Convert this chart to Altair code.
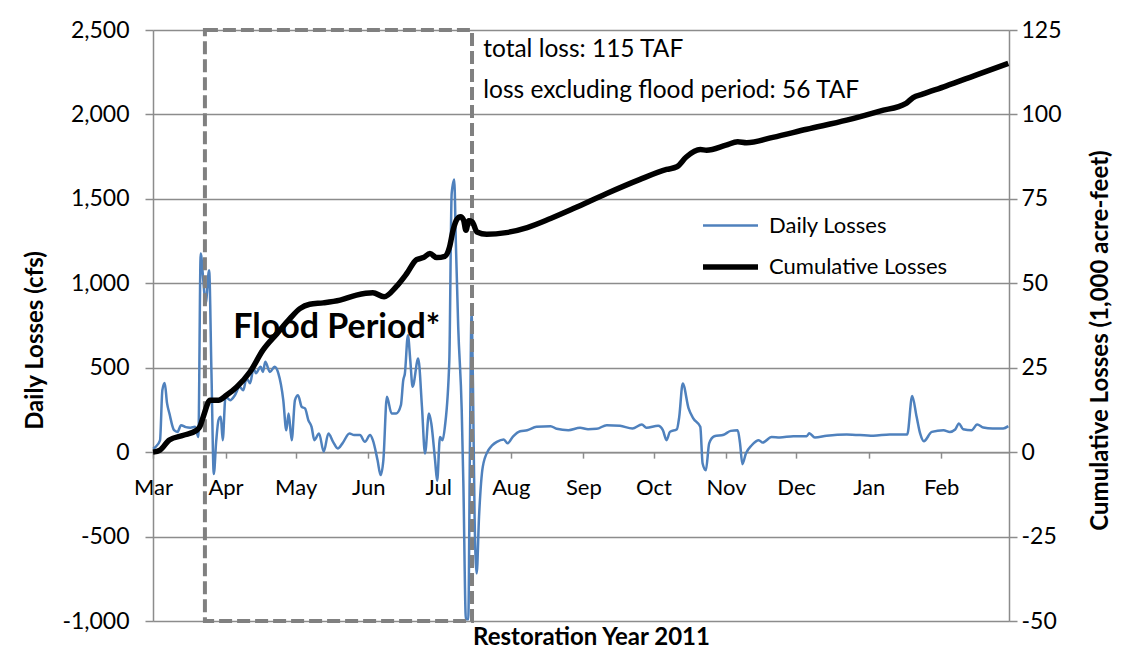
import altair as alt
import pandas as pd

# ---------------- data ----------------
START = "2011-03-01"
SERIES = ["Daily Losses", "Cumulative Losses"]

# days after 1 Mar 2011, daily losses (cfs)
daily_day = [0, 1, 3, 4, 5, 6, 7, 9, 10.5, 12, 14, 16, 18, 19.4, 20.4, 21.5, 22.5, 24, 25, 26,
             27, 28, 29, 29.8, 31, 33, 35, 37, 38.6, 40, 41.5, 43, 44, 46, 47, 48, 50, 52, 53.6,
             55.7, 57, 58, 59.3, 60.7, 62, 63.6, 65, 66.4, 67.8, 69, 71, 73, 75, 77, 79, 81, 84,
             86, 88.5, 90.6, 92.8, 94, 96, 97.3, 98.5, 100, 102, 104, 106, 107, 107.7, 109, 110,
             111, 113.4, 115, 116.3, 118, 119, 120.6, 121.5, 122.7, 123.8, 124.8, 126.7, 127.7,
             128.8, 129.5, 130.5, 132, 132.7, 133.8, 134.8, 135.5, 136.2, 136.8, 137.5, 138.4,
             139.4, 141, 143.4, 145, 147, 150, 151.6, 154, 157, 160, 164, 170, 172.6, 177.6,
             182.6, 186, 189.7, 194, 199.7, 205, 209, 211, 216, 218, 219.6, 221, 224, 225, 226.5,
             229, 231, 234, 235, 236.4, 237.8, 240, 244, 247, 250, 251, 252, 253.5, 256, 259,
             260.7, 264.5, 268, 273.8, 279.5, 280.6, 283, 288, 296.6, 308, 315, 322.5, 324.6,
             326.5, 328, 329.6, 333, 338, 340.7, 343, 344.6, 346.4, 350, 352.4, 355, 359, 363.5,
             365.7]
daily_cfs = [20, 30, 70, 367, 410, 290, 230, 130, 120, 160, 148, 145, 150, 90, 1177, 1018, 880,
             1077, 467, -130, 60, 190, 210, 70, 328, 308, 337, 387, 367, 437, 408, 497, 467, 505,
             475, 535, 475, 505, 466, 308, 130, 229, 71, 308, 337, 268, 259, 190, 150, 71, 111, 2,
             111, 61, 22, 52, 111, 101, 101, 61, 101, 71, -47, -136, -47, 328, 229, 229, 278, 426,
             466, 693, 545, 387, 555, 268, -8, 229, 170, -47, -170, 90, 71, 150, 545, 1531, 1615,
             1237, 742, 249, -185, -990, -990, 12, 821, 407, -383, -718, -383, -87, 12, 40, 61,
             75, 52, 94, 124, 130, 150, 154, 138, 130, 144, 136, 138, 160, 156, 140, 164, 144,
             156, 130, 71, 120, 136, 209, 407, 259, 200, 150, -67, -107, 52, 94, 103, 126, 130,
             52, -71, -8, 41, 71, 57, 90, 87, 94, 94, 112, 87, 97, 105, 97, 105, 105, 333, 209,
             111, 65, 120, 130, 120, 134, 170, 136, 130, 164, 146, 140, 140, 154]

# days after 1 Mar 2011, cumulative losses (1,000 acre-feet)
cum_day = [0, 3, 7, 13, 18.7, 20, 21.5, 24.4, 28, 31.5, 35.8, 41.5, 47, 53, 58.6, 62.8, 67, 72.8,
           80, 87, 94, 98.8, 104, 108.5, 112.7, 115.6, 118.4, 121.3, 124.8, 126.7, 128.4, 130,
           131.5, 132.8, 133.8, 135, 136.5, 138.5, 142.7, 151, 160, 170, 180, 194, 208, 219.6,
           224, 228, 234, 236.7, 245, 250, 253.8, 265, 279.5, 296.6, 310.8, 322, 325, 329, 339,
           353.6, 365.7]
cum_taf = [0, 0.6, 3.6, 5, 6.5, 7.5, 10.5, 15.4, 15.4, 16.9, 19.3, 23.8, 30.2, 35.1, 39.6, 42.5,
           43.8, 44.2, 45, 46.5, 47.2, 46, 49, 52.9, 57, 57.6, 58.8, 57.6, 58.0, 60.5, 66, 69,
           69.7, 68.7, 65.7, 68.5, 68.2, 65.2, 64.5, 65, 66.5, 69.2, 72.2, 76.6, 80.7, 83.7, 84.5,
           87.4, 89.6, 89.4, 90.9, 91.9, 91.6, 93.2, 95.6, 98.3, 101, 103.3, 105, 106, 108.4,
           112.1, 115.1]

# flood period (days after 1 Mar 2011)
flood_days = [22.2, 136.4]

note_text = ["total loss: 115 TAF", "loss excluding flood period: 56 TAF"]
note_day = [141.2, 141.2]
note_cfs = [2380, 2137]

flood_label = ["Flood Period*"]
flood_label_day = [34.3]
flood_label_cfs = [734]

LEFT_DOMAIN = [-1000, 2500]
RIGHT_DOMAIN = [-50, 125]
LEFT_TICKS = [-1000, -500, 0, 500, 1000, 1500, 2000, 2500]
RIGHT_TICKS = [-50, -25, 0, 25, 50, 75, 100, 125]

# ---------------- build tables ----------------
t0 = pd.Timestamp(START)


def to_date(days):
    return [t0 + pd.Timedelta(days=float(d)) for d in days]


daily_df = pd.DataFrame({"date": to_date(daily_day), "value": daily_cfs, "series": SERIES[0]})
cum_df = pd.DataFrame({"date": to_date(cum_day), "value": cum_taf, "series": SERIES[1]})
box_df = pd.DataFrame({"date": to_date([flood_days[0]]), "d2": to_date([flood_days[1]]),
                       "value": [LEFT_DOMAIN[0]], "v2": [LEFT_DOMAIN[1]]})
notes_df = pd.DataFrame({"date": to_date(note_day), "value": note_cfs, "text": note_text})
flood_df = pd.DataFrame({"date": to_date(flood_label_day), "value": flood_label_cfs,
                         "text": flood_label})

# ---------------- styling ----------------
W, H = 856, 591
FONT = "Lato"
GRID = "#8c8c8c"
BLUE = "#4F81BD"
LABEL_SIZE = 23
TITLE_SIZE = 24
LEFT_LABELS = "replace(format(datum.value, ','), '\u2212', '-')"
RIGHT_LABELS = "replace(format(datum.value, 'd'), '\u2212', '-')"

month_values = [alt.DateTime(year=2011 + (m > 12), month=(m - 1) % 12 + 1, date=1)
                for m in range(3, 15)]
x_scale = alt.Scale(domain=[alt.DateTime(year=2011, month=3, date=1),
                            alt.DateTime(year=2012, month=3, date=1)])
zero_offset = -H * (0 - LEFT_DOMAIN[0]) / (LEFT_DOMAIN[1] - LEFT_DOMAIN[0])

x_axis = alt.Axis(values=month_values, format="%b", grid=False, offset=zero_offset,
                  domainColor=GRID, domainWidth=1.5, tickColor=GRID, tickWidth=1.5, tickSize=6,
                  labelFont=FONT, labelFontSize=22, labelColor="black", labelPadding=19,
                  labelAlign="center", labelFlush=False,
                  title="Restoration Year 2011", titleFont=FONT, titleFontSize=TITLE_SIZE,
                  titleFontWeight="bold", titleColor="black", titleX=438, titleY=185,
                  titleBaseline="middle", titleAnchor="middle")

left_scale = alt.Scale(domain=LEFT_DOMAIN, nice=False, zero=False)
right_scale = alt.Scale(domain=RIGHT_DOMAIN, nice=False, zero=False)

left_axis = alt.Axis(values=LEFT_TICKS, labelExpr=LEFT_LABELS, orient="left", grid=True,
                     gridColor=GRID, gridWidth=1.5, domainColor=GRID, domainWidth=1.5,
                     tickColor=GRID, tickWidth=1.5, tickSize=8, labelFont=FONT,
                     labelFontSize=LABEL_SIZE, labelColor="black", labelPadding=16,
                     title="Daily Losses (cfs)", titleFont=FONT, titleFontSize=TITLE_SIZE,
                     titleFontWeight="bold", titleColor="black", titleX=-118, titleY=310,
                     titleBaseline="middle", titleAngle=270)
right_axis = alt.Axis(values=RIGHT_TICKS, labelExpr=RIGHT_LABELS, orient="right", grid=False,
                      domainColor=GRID, domainWidth=1.5, tickColor=GRID, tickWidth=1.5,
                      tickSize=8, labelFont=FONT, labelFontSize=LABEL_SIZE,
                      labelColor="black", labelPadding=4,
                      title="Cumulative Losses (1,000 acre-feet)", titleFont=FONT,
                      titleFontSize=TITLE_SIZE, titleFontWeight="bold", titleColor="black",
                      titleX=91, titleY=310, titleBaseline="middle", titleAngle=270)

legend = alt.Legend(title=None, orient="none", legendX=563.5, legendY=183,
                    symbolType="M-2.5,0H2.5", symbolSize=484, labelFont=FONT,
                    labelFontSize=22, labelColor="black", labelOffset=24.5, labelLimit=0,
                    rowPadding=16)
color = alt.Color("series:N", scale=alt.Scale(domain=SERIES, range=[BLUE, "black"]),
                  legend=legend)
width_enc = alt.StrokeWidth("series:O", scale=alt.Scale(domain=SERIES, range=[2.5, 5.5]),
                            legend=legend)

X = alt.X("date:T", scale=x_scale, axis=x_axis)
YL = alt.Y("value:Q", scale=left_scale, axis=left_axis)

daily = alt.Chart(daily_df).mark_line(interpolate="monotone").encode(
    x=X, y=YL, color=color, strokeWidth=width_enc)

box = alt.Chart(box_df).mark_rect(filled=False, stroke="#808080", strokeWidth=4,
                                  strokeDash=[13, 5]).encode(
    x=X, x2="d2:T", y=YL, y2="v2:Q")

notes = alt.Chart(notes_df).mark_text(align="left", baseline="middle", font=FONT,
                                      fontSize=24.5, color="black").encode(
    x=X, y=YL, text="text:N")

flood = alt.Chart(flood_df).mark_text(align="left", baseline="middle", font=FONT, fontSize=34,
                                      fontWeight="bold", color="black").encode(
    x=X, y=YL, text="text:N")

cum = alt.Chart(cum_df).mark_line(interpolate="monotone").encode(
    x=X, y=alt.Y("value:Q", scale=right_scale, axis=right_axis),
    color=color, strokeWidth=width_enc)

left_layer = alt.layer(daily, box, notes, flood)
chart = alt.layer(left_layer, cum).resolve_scale(y="independent").properties(
    width=W, height=H,
    autosize=alt.AutoSizeParams(type="none"),
    padding={"left": 145, "top": 22, "right": 123, "bottom": 33},
).configure_view(stroke=None).configure(background="white")

chart.save("out.html", embed_options={"renderer": "svg", "actions": False})
